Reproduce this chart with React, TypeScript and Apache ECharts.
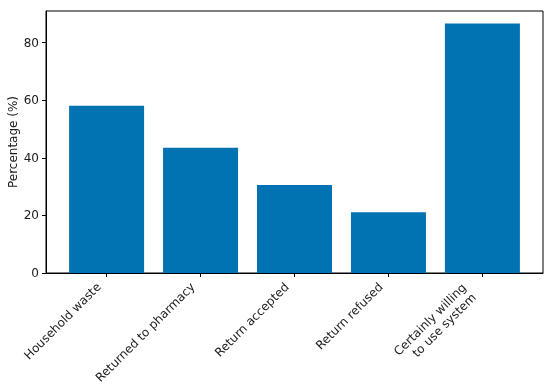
import React, { useEffect, useRef } from "react";
import * as echarts from "echarts";

const categories = [
  "Household waste",
  "Returned to pharmacy",
  "Return accepted",
  "Return refused",
  "Certainly willing\nto use system",
];
const values = [58.1, 43.5, 30.6, 21.1, 86.7];
const yTicks = [0, 20, 40, 60, 80];

export default function App() {
  const ref = useRef<HTMLDivElement>(null);
  useEffect(() => {
    document.body.style.margin = "0";
    const chart = echarts.init(ref.current!, undefined, { renderer: "svg" });
    const font = "DejaVu Sans";
    chart.setOption({
      animation: false,
      grid: {
        left: 46,
        right: 7,
        top: 11,
        bottom: 117,
        show: true,
        borderColor: "#000",
        borderWidth: 1,
        backgroundColor: "transparent",
        outerBoundsMode: "none",
        containLabel: false,
      },
      xAxis: {
        type: "value",
        min: -0.645,
        max: 4.645,
        splitLine: { show: false },
        axisLine: { show: true, onZero: false, lineStyle: { color: "#000", width: 1 } },
        axisTick: {
          show: true,
          length: 4,
          lineStyle: { color: "#000" },
          customValues: [0, 1, 2, 3, 4],
        },
        axisLabel: {
          customValues: [0, 1, 2, 3, 4],
          rotate: 45,
          margin: 4,
          padding: [0, 11, 0, 0],
          align: "right",
          fontFamily: font,
          fontSize: 12,
          lineHeight: 14,
          color: "#1a1a1a",
          formatter: (v: number) => {
            const label = categories[Math.round(v)] ?? "";
            if (label.includes("\n")) {
              return label
                .split("\n")
                .map((s) => `{m|${s}}`)
                .join("\n");
            }
            return label;
          },
          rich: {
            m: {
              fontFamily: font,
              fontSize: 12,
              lineHeight: 14,
              color: "#1a1a1a",
              align: "right",
              padding: [0, 8, 0, 0],
            },
          },
        },
      },
      yAxis: {
        type: "value",
        min: 0,
        max: 91,
        interval: 20,
        name: "Percentage (%)",
        nameLocation: "middle",
        nameGap: 27,
        nameMoveOverlap: false,
        nameTextStyle: { fontFamily: font, fontSize: 12, color: "#1a1a1a" },
        splitLine: { show: false },
        axisLine: { show: true, onZero: false, lineStyle: { color: "#000", width: 1 } },
        axisTick: { show: true, length: 4, lineStyle: { color: "#000" } },
        axisLabel: {
          margin: 7,
          fontFamily: font,
          fontSize: 12,
          color: "#1a1a1a",
          showMaxLabel: false,
          formatter: (v: number) => (yTicks.includes(v) ? String(v) : ""),
        },
      },
      series: [
        {
          type: "bar",
          barWidth: 75,
          itemStyle: { color: "#0173B2" },
          data: values.map((v, i) => [i, v]),
        },
      ],
    });
    return () => chart.dispose();
  }, []);
  return (
    <div
      ref={ref}
      style={{ position: "fixed", left: 0, top: 0, width: 550, height: 390 }}
    />
  );
}
